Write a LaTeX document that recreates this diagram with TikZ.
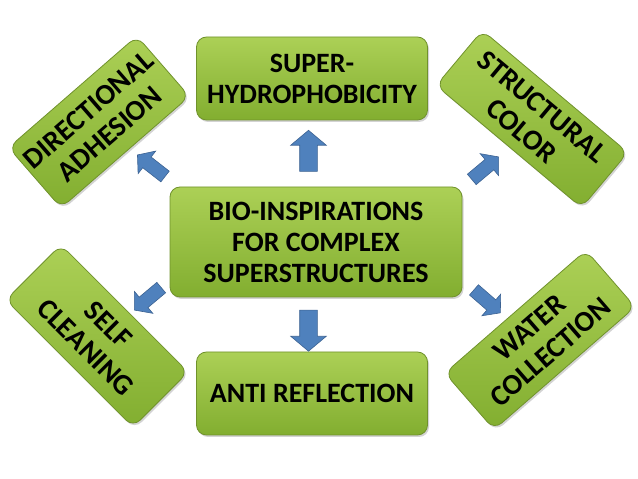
\documentclass[tikz,border=0pt]{standalone}
\usepackage{fontspec}
\setmainfont{Carlito}
\usetikzlibrary{shapes.arrows,shadows}
\definecolor{boxtop}{RGB}{172,208,86}
\definecolor{boxbot}{RGB}{130,174,48}
\definecolor{boxline}{RGB}{112,146,44}
\definecolor{arrowblue}{RGB}{79,129,189}
\definecolor{arrowline}{RGB}{60,98,146}
\begin{document}
\begin{tikzpicture}[x=1pt,y=1pt,
    topic/.style={draw=boxline,line width=.8pt,rounded corners=10pt,top color=boxtop,bottom color=boxbot,
        align=center,inner sep=0pt,font=\fontsize{28}{31}\selectfont\bfseries,
        drop shadow={opacity=.35,shadow xshift=1.5pt,shadow yshift=-2pt}},
    tilted/.style={topic,font=\fontsize{29}{32}\selectfont\bfseries},
    bigarrow/.style={single arrow,draw=arrowline,fill=arrowblue,line width=.6pt,inner xsep=0pt,inner ysep=8.5pt,
        minimum height=41pt,single arrow head extend=9pt,single arrow tip angle=100},
    smallarrow/.style={bigarrow,minimum height=35pt,inner ysep=6.5pt,single arrow head extend=7.5pt}]
\useasboundingbox (0,0) rectangle (638,479);
% centre and the two upright boxes
\node[topic,minimum width=292pt,minimum height=110pt](bio) at (316,237) {BIO-INSPIRATIONS\\FOR COMPLEX\\SUPERSTRUCTURES};
\node[topic,minimum width=231pt,minimum height=83pt](super) at (312,400.5) {SUPER-\\HYDROPHOBICITY};
\node[topic,minimum width=231pt,minimum height=83pt](anti) at (312,85.5) {ANTI REFLECTION};
% the tilted boxes
\node[tilted,rotate=41,minimum width=170pt,minimum height=80pt](adhesion) at (99,357) {DIRECTIONAL\\ADHESION};
\node[tilted,rotate=-40,minimum width=190pt,minimum height=72pt](color) at (532,360) {STRUCTURAL\\COLOR};
\node[tilted,rotate=-45,minimum width=180pt,minimum height=78pt](clean) at (97,143) {SELF\\CLEANING};
\node[tilted,rotate=41,minimum width=187pt,minimum height=75pt](water) at (540,139) {WATER\\COLLECTION};
% block arrows
\node[bigarrow,rotate=90](toS) at (308.5,324.5) {};
\node[bigarrow,rotate=-90](toA) at (308.5,152) {};
\node[smallarrow,rotate=142](toD) at (153.5,311.5) {};
\node[smallarrow,rotate=40](toC) at (483,309) {};
\node[smallarrow,rotate=220](toL) at (150,182) {};
\node[smallarrow,rotate=-41](toW) at (485,179.5) {};
\end{tikzpicture}
\end{document}
